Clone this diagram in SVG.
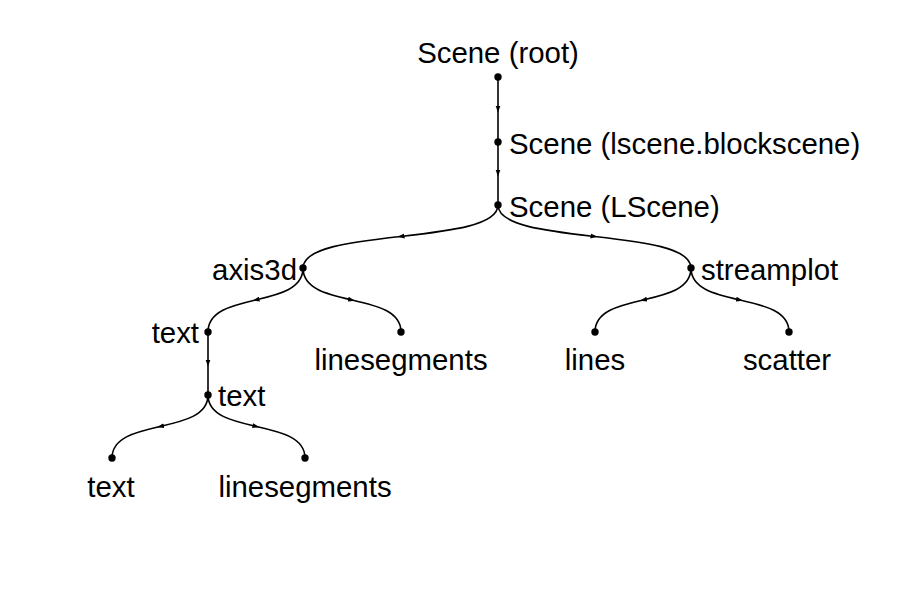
<svg xmlns="http://www.w3.org/2000/svg" width="900" height="600" viewBox="0 0 900 600">
  <defs>
    <marker id="arr" markerUnits="userSpaceOnUse" markerWidth="8" markerHeight="6" refX="4" refY="3" orient="auto">
      <path d="M0,0.5 L7,3 L0,5.5 z" fill="#000"/>
    </marker>
  </defs>
  <style>
    .edge { fill: none; stroke: #000; stroke-width: 1.6; marker-mid: url(#arr); }
    .dot { fill: #000; }
    .lbl { font-family: "Liberation Sans", Arial, sans-serif; font-size: 29.4px; fill: #000; }
    .r { text-anchor: start; }
    .l { text-anchor: end; }
    .c { text-anchor: middle; }
  </style>
  <rect width="900" height="600" fill="#fff"/>
  <g id="connectors">
    <path class="edge" d="M498,77 L498,109.5 L498,142"/>
    <path class="edge" d="M498,142 L498,173.5 L498,205"/>
    <path class="edge" d="M498,205 C498,225.5 449.25,231 400.5,236.5 C351.75,242 303,247.5 303,268"/>
    <path class="edge" d="M498,205 C498,225.5 546.25,231 594.5,236.5 C642.75,242 691,247.5 691,268"/>
    <path class="edge" d="M303,268 C303,288.8 279.25,294.4 255.5,300 C231.75,305.6 208,311.2 208,332"/>
    <path class="edge" d="M303,268 C303,288.8 327.5,294.4 352,300 C376.5,305.6 401,311.2 401,332"/>
    <path class="edge" d="M691,268 C691,288.8 667,294.4 643,300 C619,305.6 595,311.2 595,332"/>
    <path class="edge" d="M691,268 C691,288.8 715.5,294.4 740,300 C764.5,305.6 789,311.2 789,332"/>
    <path class="edge" d="M208,332 L208,363.5 L208,395"/>
    <path class="edge" d="M208,395 C208,415.5 184,421 160,426.5 C136,432 112,437.5 112,458"/>
    <path class="edge" d="M208,395 C208,415.5 232.25,421 256.5,426.5 C280.75,432 305,437.5 305,458"/>
  </g>
  <g id="root"><circle class="dot" cx="498" cy="77" r="3.7"/><text class="lbl c" x="498" y="63">Scene (root)</text></g>
  <g id="lscene-blockscene"><circle class="dot" cx="498" cy="142" r="3.7"/><text class="lbl r" x="509" y="154">Scene (lscene.blockscene)</text></g>
  <g id="lscene"><circle class="dot" cx="498" cy="205" r="3.7"/><text class="lbl r" x="509" y="217">Scene (LScene)</text></g>
  <g id="axis3d"><circle class="dot" cx="303" cy="268" r="3.7"/><text class="lbl l" x="297" y="280">axis3d</text></g>
  <g id="streamplot"><circle class="dot" cx="691" cy="268" r="3.7"/><text class="lbl r" x="701" y="280">streamplot</text></g>
  <g id="text1"><circle class="dot" cx="208" cy="332" r="3.7"/><text class="lbl l" x="199" y="343">text</text></g>
  <g id="linesegments1"><circle class="dot" cx="401" cy="332" r="3.7"/><text class="lbl c" x="401" y="370">linesegments</text></g>
  <g id="lines"><circle class="dot" cx="595" cy="332" r="3.7"/><text class="lbl c" x="595" y="370">lines</text></g>
  <g id="scatter"><circle class="dot" cx="789" cy="332" r="3.7"/><text class="lbl c" x="787" y="370">scatter</text></g>
  <g id="text2"><circle class="dot" cx="208" cy="395" r="3.7"/><text class="lbl r" x="218" y="406">text</text></g>
  <g id="text3"><circle class="dot" cx="112" cy="458" r="3.7"/><text class="lbl c" x="111" y="497">text</text></g>
  <g id="linesegments2"><circle class="dot" cx="305" cy="458" r="3.7"/><text class="lbl c" x="305" y="497">linesegments</text></g>
</svg>
